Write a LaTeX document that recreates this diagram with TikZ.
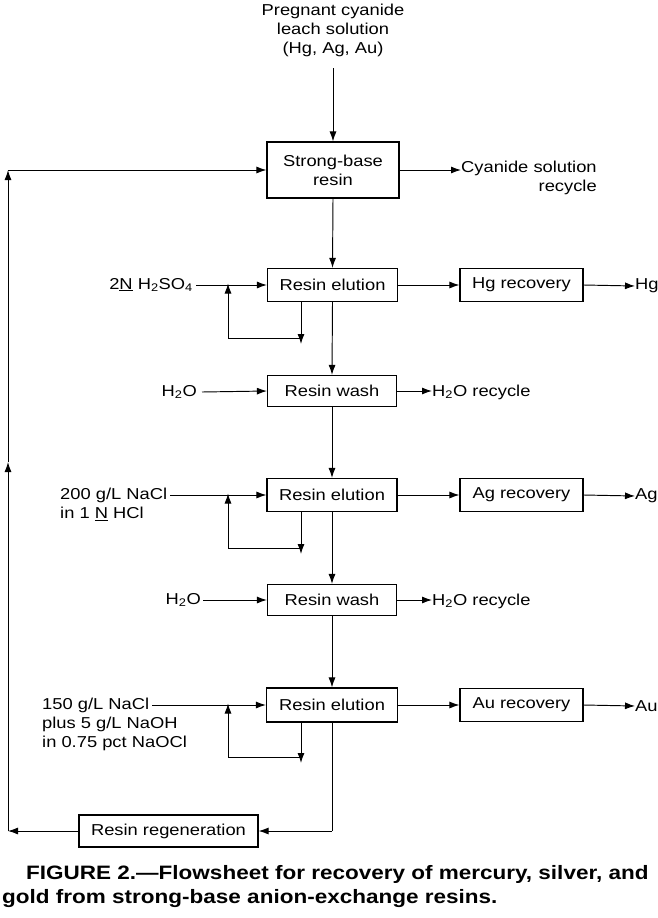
\documentclass[tikz,border=0pt]{standalone}
\usepackage{fontspec}
\setmainfont{Liberation Sans}[FakeStretch=1.16]
\usetikzlibrary{arrows.meta}
\begin{document}
\begin{tikzpicture}[x=1pt,y=-1pt,
  every node/.style={font=\fontsize{15.8}{19}\selectfont},
  box/.style={draw,line width=1.2pt,minimum height=33pt,inner sep=0pt},
  lbl/.style={inner sep=0pt},
  arr/.style={line width=0.95pt,-{Latex[length=10pt,width=7pt]}},
  ln/.style={line width=0.95pt}]
\useasboundingbox (0,0) rectangle (658,918);
% top input
\node[lbl,align=center] (feed) at (333,30) {Pregnant cyanide\\leach solution\\(Hg, Ag, Au)};
\node[box,minimum width=132pt,minimum height=56pt,align=center] (sb) at (333,170) {Strong-base\\resin};
\node[lbl,align=right,anchor=west] (cy) at (461,178) {Cyanide solution\\recycle};
% elution 1
\node[box,minimum width=130pt] (el1) at (332.5,285) {Resin elution};
\node[box,minimum width=123pt] (hg) at (521.5,285) {Hg recovery};
\node[lbl,anchor=west] (hgo) at (635,286) {Hg};
\node[lbl,anchor=east] (acid) at (193,285) {2\underline{N} H\textsubscript{2}SO\textsubscript{4}};
% wash 1
\node[box,minimum width=129pt,minimum height=31pt] (w1) at (332,391) {Resin wash};
\node[lbl,anchor=east] (h1) at (197,392) {H\textsubscript{2}O};
\node[lbl,anchor=west] (r1) at (432,392) {H\textsubscript{2}O recycle};
% elution 2
\node[box,minimum width=130pt] (el2) at (332,495) {Resin elution};
\node[box,minimum width=123pt] (ag) at (521.5,495) {Ag recovery};
\node[lbl,anchor=west] (ago) at (635,496) {Ag};
\node[lbl,anchor=west] (na2) at (60,495) {200 g/L NaCl};
\node[lbl,anchor=west] (na2b) at (60,514) {in 1 \underline{N} HCl};
% wash 2
\node[box,minimum width=129pt,minimum height=31pt] (w2) at (332,600) {Resin wash};
\node[lbl,anchor=east] (h2) at (201,600) {H\textsubscript{2}O};
\node[lbl,anchor=west] (r2) at (432,601) {H\textsubscript{2}O recycle};
% elution 3
\node[box,minimum width=131pt,minimum height=34pt] (el3) at (332,705) {Resin elution};
\node[box,minimum width=123pt] (au) at (521.5,705) {Au recovery};
\node[lbl,anchor=west] (auo) at (635,706) {Au};
\node[lbl,anchor=west] (na3) at (42,705) {150 g/L NaCl};
\node[lbl,anchor=west] (na3b) at (42,724) {plus 5 g/L NaOH};
\node[lbl,anchor=west] (na3c) at (42,743) {in 0.75 pct NaOCl};
% regeneration
\node[box,minimum width=179pt,minimum height=32pt] (reg) at (168.5,831) {Resin regeneration};
% caption
\node[lbl,anchor=west,font=\bfseries\fontsize{19.4}{24}\selectfont] (cap1) at (26,874) {FIGURE 2.—Flowsheet for recovery of mercury, silver, and};
\node[lbl,anchor=west,font=\bfseries\fontsize{19.4}{24}\selectfont] (cap2) at (2,899) {gold from strong-base anion-exchange resins.};
% coordinates
\coordinate (ftop) at (333,68);
\coordinate (L1) at (8,831);
\coordinate (Lm) at (8,462);
\coordinate (L2) at (8,170);
\coordinate (B) at (332,831);
\coordinate (p1) at (228,338);
\coordinate (q1) at (301,338);
\coordinate (p2) at (228,548);
\coordinate (q2) at (301,548);
\coordinate (p3) at (228,757);
\coordinate (q3) at (301,757);
% main flow
\draw[arr] (ftop) -- (sb.north);
\draw[arr] (sb.east) -- (sb.east -| cy.west);
\draw[arr] (sb.south) -- (el1.north);
\draw[arr] (el1.east) -- (hg.west);
\draw[arr] (hg.east) -- (hgo.west);
\draw[arr] (acid.east) ++(3,0) -- (el1.west);
\draw[arr] (el1.south) -- (w1.north);
\draw[arr] (h1.east) ++(5,0) -- (w1.west);
\draw[arr] (w1.east) -- (r1.west |- w1.east);
\draw[arr] (w1.south) -- (el2.north);
\draw[arr] (el2.east) -- (ag.west);
\draw[arr] (ag.east) -- (ago.west);
\draw[arr] (na2.east) ++(3,0) -- (el2.west);
\draw[arr] (el2.south) -- (w2.north);
\draw[arr] (h2.east) ++(2,0) -- (w2.west);
\draw[arr] (w2.east) -- (r2.west |- w2.east);
\draw[arr] (w2.south) -- (el3.north);
\draw[arr] (el3.east) -- (au.west);
\draw[arr] (au.east) -- (auo.west);
\draw[arr] (na3.east) ++(3,0) -- (el3.west);
% loops
\draw[arr] (el1.south -| q1) -- ([yshift=-6]q1);
\draw[arr] (q1) -- (p1) -- ([yshift=1.5]p1 |- el1.west);
\draw[arr] (el2.south -| q2) -- ([yshift=-6]q2);
\draw[arr] (q2) -- (p2) -- ([yshift=1.5]p2 |- el2.west);
\draw[arr] (el3.south -| q3) -- ([yshift=-6]q3);
\draw[arr] (q3) -- (p3) -- ([yshift=1.5]p3 |- el3.west);
% return
\draw[ln] (el3.south) -- (B);
\draw[arr] (B) -- (reg.east);
\draw[arr] (reg.west) -- (L1);
\draw[arr] (L1) -- (Lm);
\draw[arr] (Lm) -- (L2);
\draw[arr] (L2) -- (sb.west |- L2);
\end{tikzpicture}
\end{document}
